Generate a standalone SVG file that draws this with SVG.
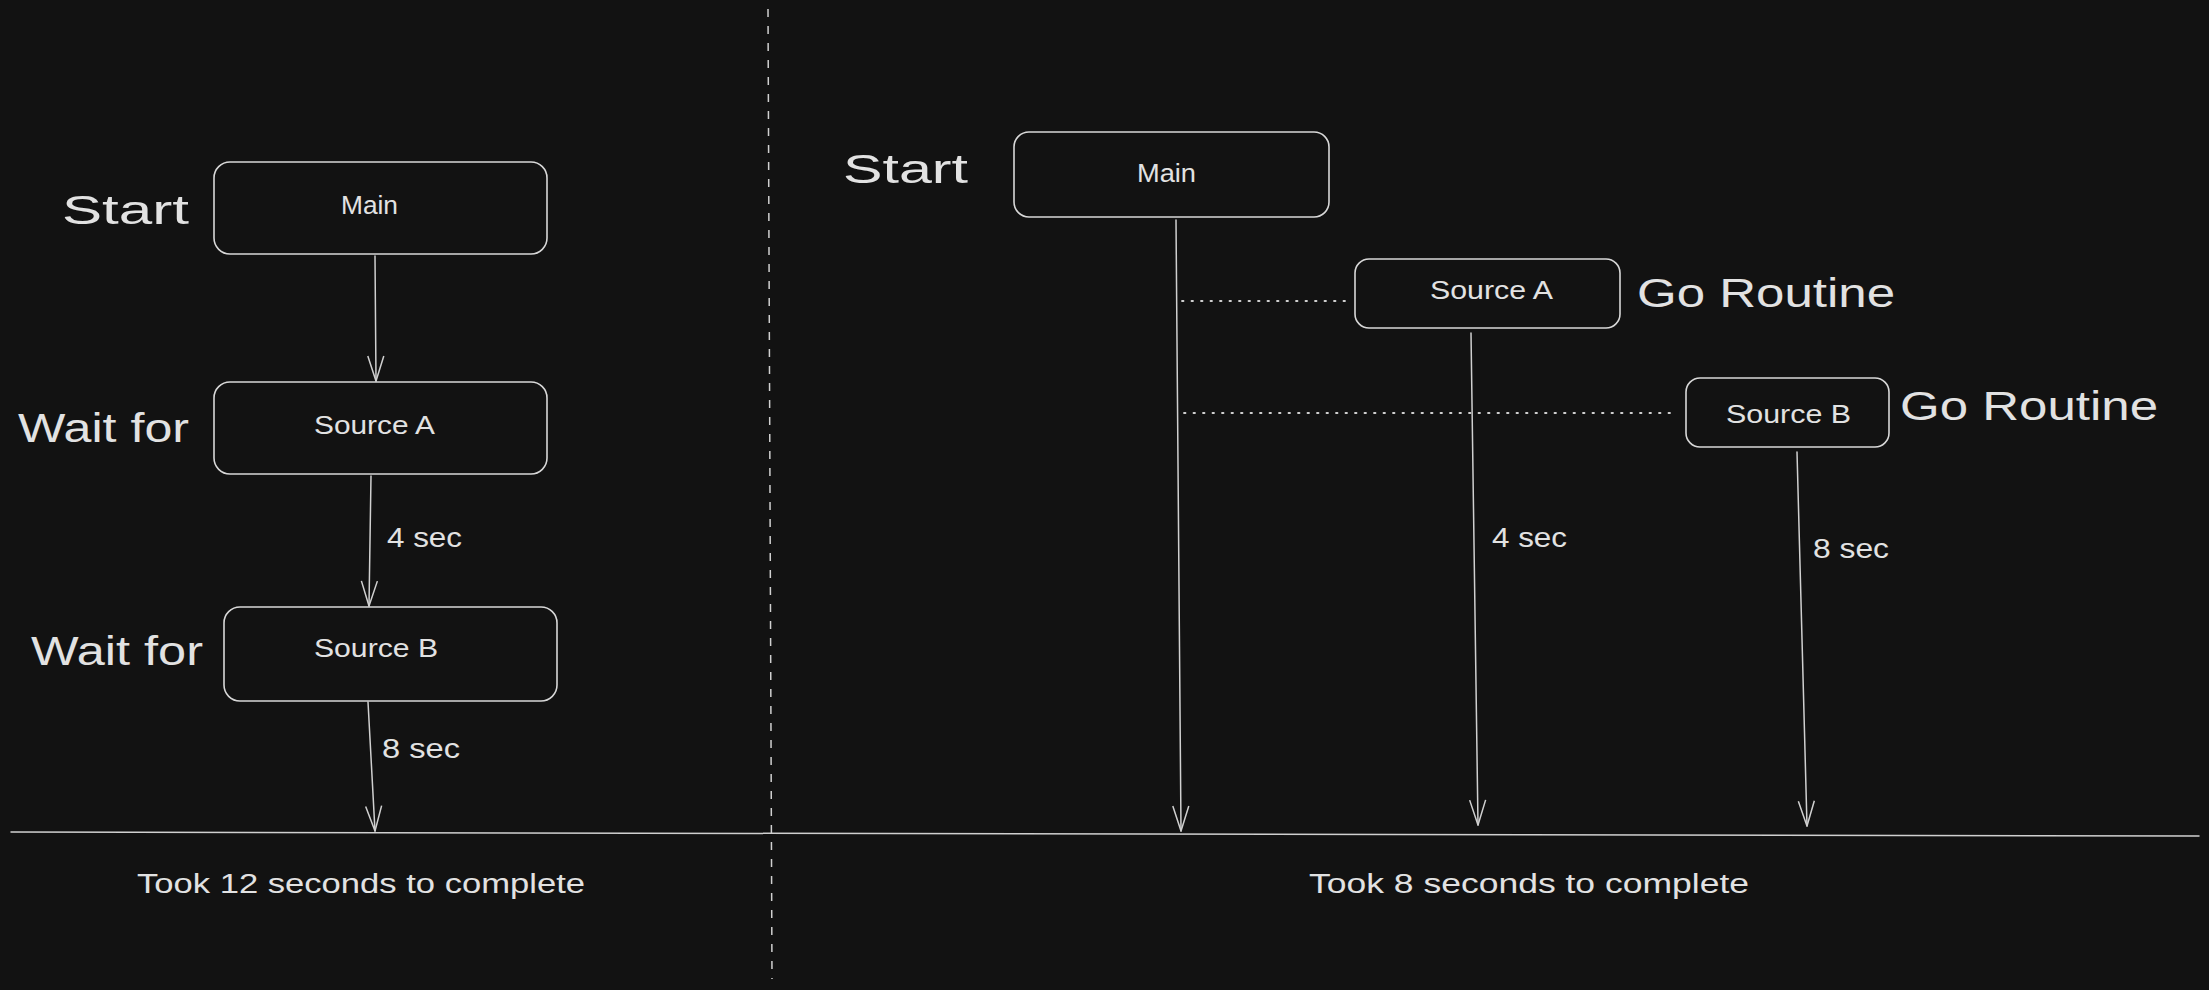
<svg xmlns="http://www.w3.org/2000/svg" width="2209" height="990" viewBox="0 0 2209 990">
<style>
.bg{fill:#121212}
.box{fill:none;stroke:#d8d8d8;stroke-width:1.6}
.ln{fill:none;stroke:#d0d0d0;stroke-width:1.5;stroke-linecap:round}
.dash{fill:none;stroke:#d0d0d0;stroke-width:1.5;stroke-dasharray:8 9}
.dot{fill:none;stroke:#d0d0d0;stroke-width:1.8;stroke-dasharray:1.5 8;stroke-linecap:round}
text{fill:#e2e2e2;font-family:"Liberation Sans","DejaVu Sans",sans-serif}
.big{font-size:41px}
.lbl{font-size:25px}
.sm{font-size:27px}
</style>
<defs>
<marker id="ah" markerUnits="userSpaceOnUse" markerWidth="30" markerHeight="20" refX="27" refY="10" orient="auto" viewBox="0 0 30 20">
<path d="M2,2 L27,10 L2,18" fill="none" stroke="#d0d0d0" stroke-width="1.5" stroke-linejoin="round"/>
</marker>
</defs>
<rect class="bg" x="0" y="0" width="2209" height="990"/>

<g id="connectors">
<path class="dash" d="M768,9 L772,979"/>
<path class="ln" d="M11,832 L2199,836"/>
<path class="ln" marker-end="url(#ah)" d="M375,256 L376,381"/>
<path class="ln" marker-end="url(#ah)" d="M371,476 L369,606"/>
<path class="ln" marker-end="url(#ah)" d="M368,702 L375,831"/>
<path class="ln" marker-end="url(#ah)" d="M1176,220 L1181,831"/>
<path class="ln" marker-end="url(#ah)" d="M1471,333 L1478,825"/>
<path class="ln" marker-end="url(#ah)" d="M1797,452 L1807,826"/>
<path class="dot" d="M1182,301 L1345,301"/>
<path class="dot" d="M1184,413 L1670,413"/>
</g>

<g id="left-labels">
<text class="big" x="62" y="224" textLength="127" lengthAdjust="spacingAndGlyphs">Start</text>
<text class="big" x="18" y="442" textLength="171" lengthAdjust="spacingAndGlyphs">Wait for</text>
<text class="big" x="31" y="665" textLength="172" lengthAdjust="spacingAndGlyphs">Wait for</text>
<text class="sm" x="387" y="547" textLength="75" lengthAdjust="spacingAndGlyphs">4 sec</text>
<text class="sm" x="382" y="758" textLength="78" lengthAdjust="spacingAndGlyphs">8 sec</text>
<text class="sm" x="137" y="893" textLength="448" lengthAdjust="spacingAndGlyphs">Took 12 seconds to complete</text>
</g>

<g id="left-main">
<rect class="box" x="214" y="162" width="333" height="92" rx="16"/>
<text class="lbl" x="341" y="214" textLength="57" lengthAdjust="spacingAndGlyphs">Main</text>
</g>
<g id="left-source-a">
<rect class="box" x="214" y="382" width="333" height="92" rx="16"/>
<text class="lbl" x="314" y="434" textLength="121" lengthAdjust="spacingAndGlyphs">Source A</text>
</g>
<g id="left-source-b">
<rect class="box" x="224" y="607" width="333" height="94" rx="16"/>
<text class="lbl" x="314" y="657" textLength="124" lengthAdjust="spacingAndGlyphs">Source B</text>
</g>

<g id="right-labels">
<text class="big" x="843" y="183" textLength="125" lengthAdjust="spacingAndGlyphs">Start</text>
<text class="big" x="1637" y="307" textLength="258" lengthAdjust="spacingAndGlyphs">Go Routine</text>
<text class="big" x="1900" y="420" textLength="258" lengthAdjust="spacingAndGlyphs">Go Routine</text>
<text class="sm" x="1492" y="547" textLength="75" lengthAdjust="spacingAndGlyphs">4 sec</text>
<text class="sm" x="1813" y="558" textLength="76" lengthAdjust="spacingAndGlyphs">8 sec</text>
<text class="sm" x="1309" y="893" textLength="440" lengthAdjust="spacingAndGlyphs">Took 8 seconds to complete</text>
</g>

<g id="right-main">
<rect class="box" x="1014" y="132" width="315" height="85" rx="15"/>
<text class="lbl" x="1137" y="182" textLength="59" lengthAdjust="spacingAndGlyphs">Main</text>
</g>
<g id="right-source-a">
<rect class="box" x="1355" y="259" width="265" height="69" rx="14"/>
<text class="lbl" x="1430" y="299" textLength="123" lengthAdjust="spacingAndGlyphs">Source A</text>
</g>
<g id="right-source-b">
<rect class="box" x="1686" y="378" width="203" height="69" rx="14"/>
<text class="lbl" x="1726" y="423" textLength="125" lengthAdjust="spacingAndGlyphs">Source B</text>
</g>
</svg>
